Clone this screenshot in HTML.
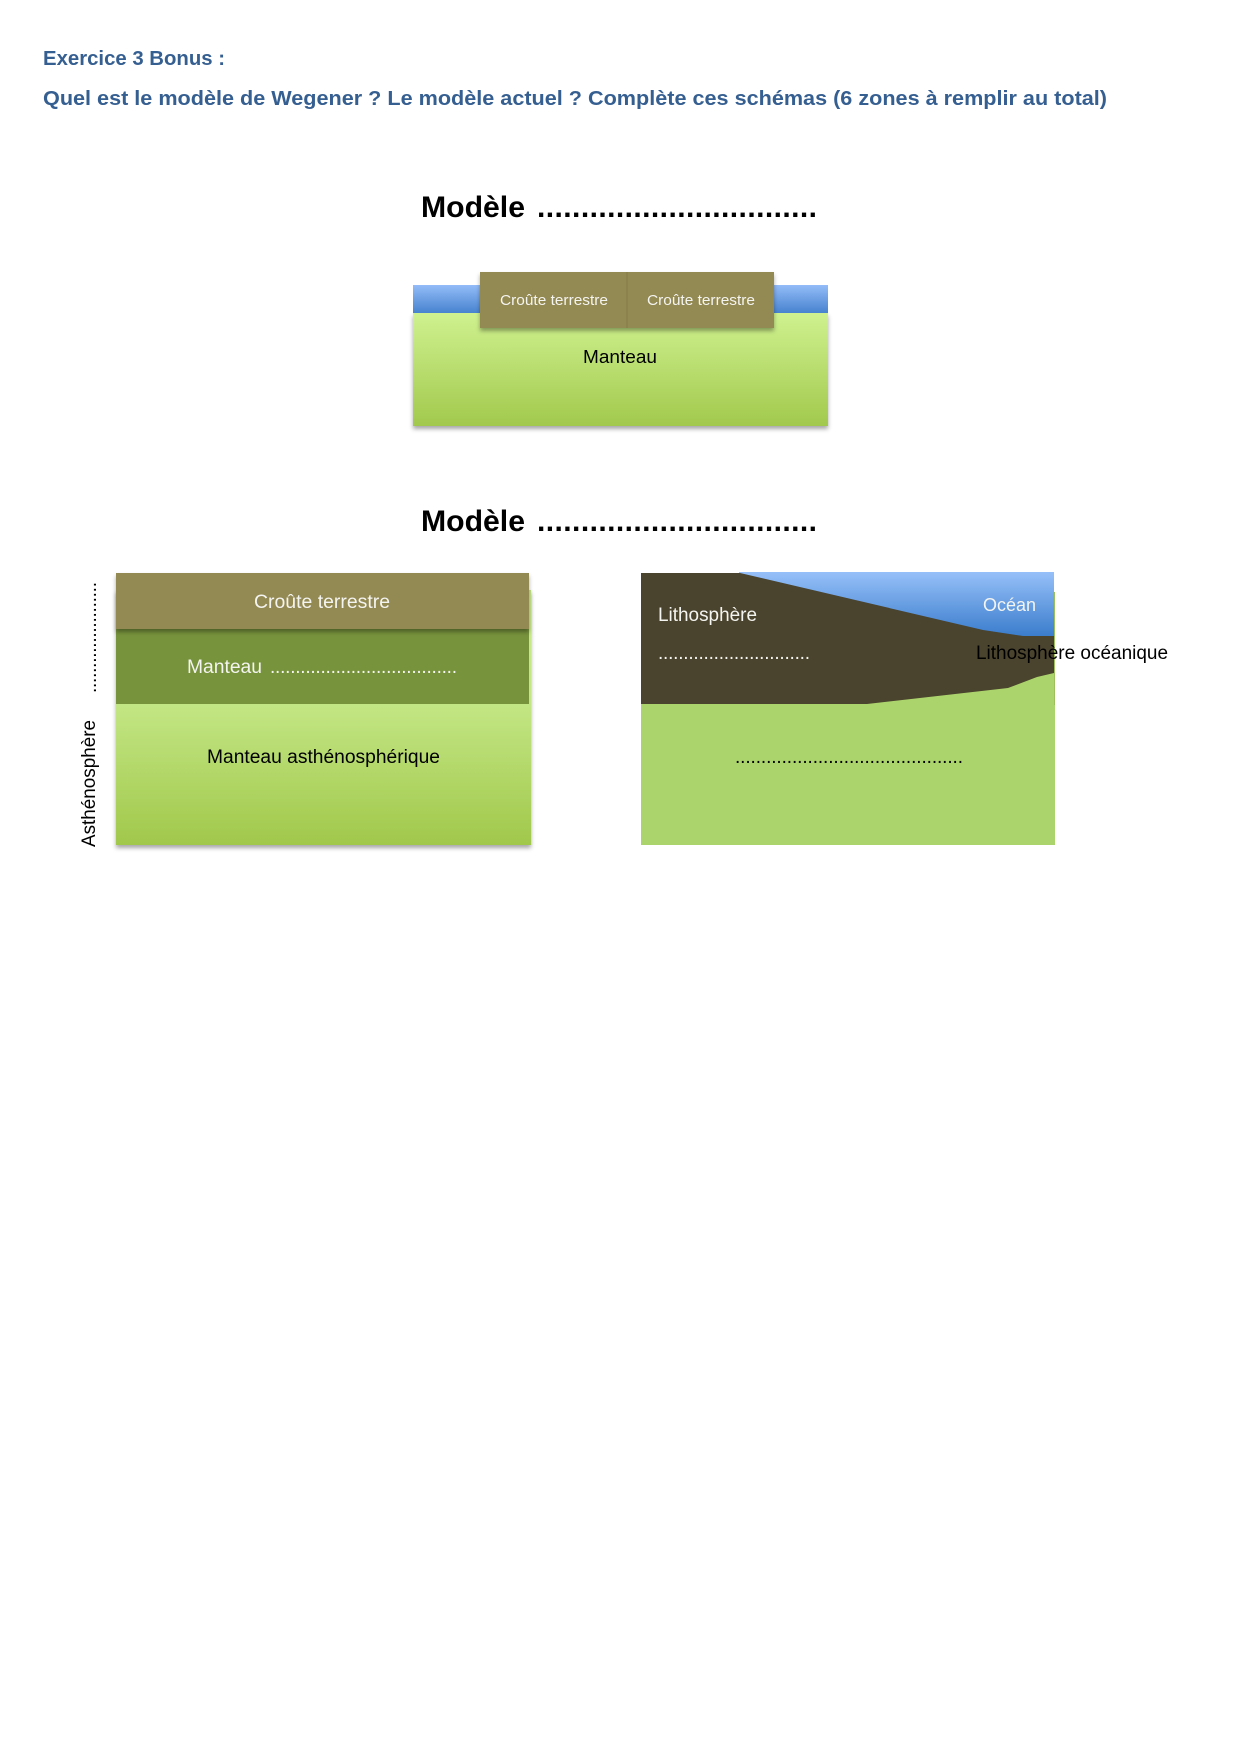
<!DOCTYPE html>
<html><head><meta charset="utf-8"><style>
html,body{margin:0;padding:0;background:#fff;}
svg{display:block;}
text{font-family:"Liberation Sans",Arial,sans-serif;}
</style></head><body>
<svg width="1240" height="1754" viewBox="0 0 1240 1754" xmlns="http://www.w3.org/2000/svg">
<defs>
<linearGradient id="gTop" x1="0" y1="0" x2="0" y2="1"><stop offset="0" stop-color="#cff18f"/><stop offset="1" stop-color="#a2c94d"/></linearGradient>
<linearGradient id="bTop" x1="0" y1="0" x2="0" y2="1"><stop offset="0" stop-color="#93bcf8"/><stop offset="1" stop-color="#4783cf"/></linearGradient>
<linearGradient id="gLeft" x1="0" y1="0" x2="0" y2="1"><stop offset="0" stop-color="#c8ea8c"/><stop offset="0.45" stop-color="#c3e684"/><stop offset="1" stop-color="#a1c84b"/></linearGradient>
<linearGradient id="ocean" x1="0" y1="0" x2="0" y2="1"><stop offset="0" stop-color="#96c0f9"/><stop offset="1" stop-color="#3b7dcc"/></linearGradient>
<filter id="sh" x="-5%" y="-10%" width="110%" height="130%"><feDropShadow dx="0" dy="3" stdDeviation="2" flood-color="#000" flood-opacity="0.35"/></filter>
</defs>
<rect width="1240" height="1754" fill="#fff"/>

<!-- Header -->
<text x="43" y="65" font-size="20" font-weight="bold" fill="#365F91" textLength="182" lengthAdjust="spacingAndGlyphs">Exercice 3 Bonus :</text>
<text x="43" y="105" font-size="20" font-weight="bold" fill="#365F91" textLength="1064" lengthAdjust="spacingAndGlyphs">Quel est le modèle de Wegener ? Le modèle actuel ? Complète ces schémas (6 zones à remplir au total)</text>

<!-- Title 1 -->
<text x="421" y="217" font-size="30" font-weight="bold" fill="#000" textLength="104" lengthAdjust="spacingAndGlyphs">Modèle</text>
<text x="537" y="217" font-size="30" font-weight="bold" fill="#000" textLength="280">................................</text>

<!-- Top diagram -->
<rect x="413" y="313" width="415" height="113" fill="url(#gTop)" filter="url(#sh)"/>
<rect x="413" y="285" width="415" height="28" fill="url(#bTop)"/>
<g filter="url(#sh)">
<rect x="480" y="272" width="147" height="56" fill="#938953"/>
<rect x="627" y="272" width="147" height="56" fill="#938953"/>
</g>
<line x1="627" y1="272" x2="627" y2="328" stroke="#857b48" stroke-width="1"/>
<text x="500" y="305" font-size="15" fill="#f4f4f0" textLength="108" lengthAdjust="spacingAndGlyphs">Croûte terrestre</text>
<text x="647" y="305" font-size="15" fill="#f4f4f0" textLength="108" lengthAdjust="spacingAndGlyphs">Croûte terrestre</text>
<text x="583" y="363" font-size="18" fill="#000" textLength="74" lengthAdjust="spacingAndGlyphs">Manteau</text>

<!-- Title 2 -->
<text x="421" y="531" font-size="30" font-weight="bold" fill="#000" textLength="104" lengthAdjust="spacingAndGlyphs">Modèle</text>
<text x="537" y="531" font-size="30" font-weight="bold" fill="#000" textLength="280">................................</text>

<!-- Left diagram -->
<rect x="116" y="590" width="415" height="255" fill="url(#gLeft)" filter="url(#sh)"/>
<rect x="116" y="629" width="413" height="75" fill="#77933c"/>
<rect x="116" y="573" width="413" height="56" fill="#938953" filter="url(#sh)"/>
<text x="254" y="608" font-size="19" fill="#f4f4f0" textLength="136" lengthAdjust="spacingAndGlyphs">Croûte terrestre</text>
<text x="187" y="673" font-size="19" fill="#f4f4f0" textLength="75" lengthAdjust="spacingAndGlyphs">Manteau</text>
<text x="270" y="673" font-size="19" fill="#f4f4f0" textLength="187">.....................................</text>
<text x="207" y="763" font-size="19" fill="#000" textLength="233" lengthAdjust="spacingAndGlyphs">Manteau asthénosphérique</text>
<text transform="translate(95,847) rotate(-90)" font-size="19" fill="#000" textLength="127" lengthAdjust="spacingAndGlyphs">Asthénosphère</text>
<text transform="translate(96,693) rotate(-90)" font-size="19" fill="#000" textLength="111">......................</text>

<!-- Right diagram -->
<rect x="641" y="592" width="414" height="253" fill="#acd46c"/>
<line x1="1054.5" y1="592" x2="1054.5" y2="705" stroke="#9cc05c" stroke-width="1"/>
<rect x="739" y="572" width="315" height="64" fill="url(#ocean)"/>
<polygon points="641,573 740,573 983,630 1023,636 1054,636 1054,673 1037,677 1008,688 867,704 641,704" fill="#4a432d"/>
<text x="658" y="621" font-size="19" fill="#f4f4f0" textLength="99" lengthAdjust="spacingAndGlyphs">Lithosphère</text>
<text x="658" y="659" font-size="19" fill="#f4f4f0" textLength="152">..............................</text>
<text x="983" y="611" font-size="18" fill="#f4f4f0" textLength="53" lengthAdjust="spacingAndGlyphs">Océan</text>
<text x="976" y="659" font-size="19" fill="#000" textLength="192" lengthAdjust="spacingAndGlyphs">Lithosphère océanique</text>
<text x="735" y="763" font-size="19" fill="#000" textLength="228">............................................</text>
</svg>
</body></html>
